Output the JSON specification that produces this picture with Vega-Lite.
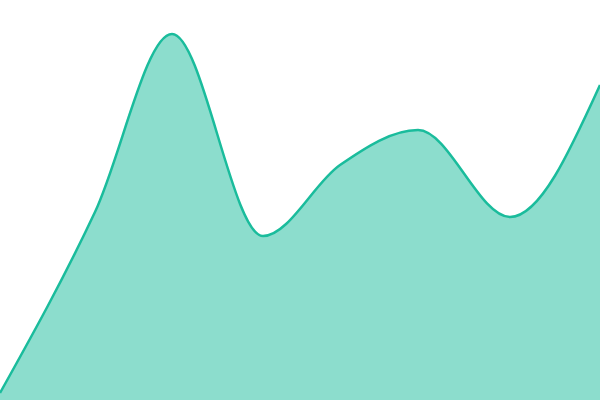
{
  "$schema": "https://vega.github.io/schema/vega-lite/v6.json",
  "width": 600,
  "height": 400,
  "autosize": {"type": "none"},
  "padding": 0,
  "background": "white",
  "config": {"view": {"stroke": null}},
  "data": {"values": [
    {"x": 0, "y": 7},
    {"x": 95, "y": 188},
    {"x": 172, "y": 366},
    {"x": 263, "y": 164},
    {"x": 340, "y": 235},
    {"x": 418, "y": 270},
    {"x": 510, "y": 183},
    {"x": 600, "y": 315}
  ]},
  "encoding": {
    "x": {"field": "x", "type": "quantitative", "scale": {"domain": [0, 600], "nice": false}, "axis": null},
    "y": {"field": "y", "type": "quantitative", "scale": {"domain": [0, 400], "nice": false}, "axis": null}
  },
  "layer": [
    {"mark": {"type": "area", "interpolate": "monotone", "color": "#1abc9c", "fillOpacity": 0.5}},
    {"mark": {"type": "line", "interpolate": "monotone", "color": "#1abc9c", "strokeWidth": 2.5}}
  ]
}
